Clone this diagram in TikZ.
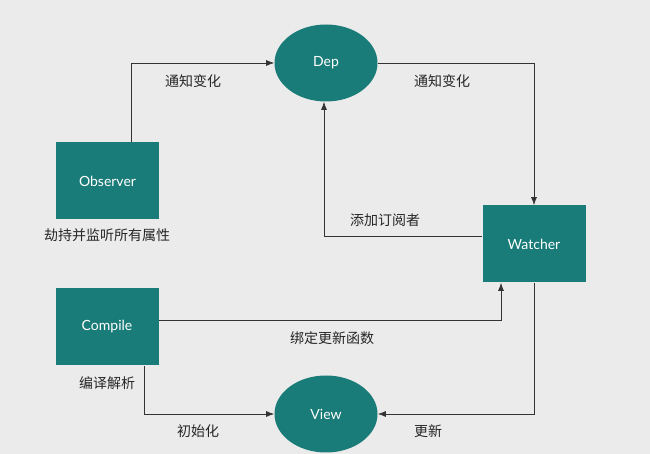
\documentclass[tikz,border=0pt]{standalone}
\usepackage{fontspec}
\setmainfont{Lato}
\newfontfamily\cjk{Noto Sans CJK SC}
\usetikzlibrary{shapes.geometric,arrows.meta}
\definecolor{tealbox}{RGB}{26,124,120}
\definecolor{bggray}{RGB}{235,235,235}
\begin{document}
\begin{tikzpicture}[x=1pt,y=1pt,line width=0.7pt,
  box/.style={fill=tealbox,text=white,minimum width=103pt,minimum height=77pt,inner sep=0pt,font=\fontsize{14}{16}\selectfont},
  oval/.style={box,ellipse},
  lbl/.style={font=\cjk\fontsize{14}{16}\selectfont,text=black!85},
  link/.style={draw=black!80,-{Latex[length=8pt,width=6pt]}}]
\fill[bggray](0,0)rectangle(650,454);
% nodes
\node[oval](dep)at(326,391){Dep};
\node[box](observer)at(107.5,273){Observer};
\node[box](watcher)at(534,210){Watcher};
\node[box](compile)at(107,127){Compile};
\node[oval](view)at(326,40){View};
% connectors
\draw[link]([xshift=23.5pt]observer.north)|-(dep.west);
\draw[link](dep.east)-|(watcher.north);
\draw[link]([yshift=8pt]watcher.west)-|([xshift=-2pt]dep.south);
\draw[link]([yshift=7pt]compile.east)-|([xshift=-33pt]watcher.south);
\draw[link]([xshift=37pt]compile.south)|-(view.west);
\draw[link](watcher.south)|-(view.east);
% labels
\node[lbl](l1)at(193,373){通知变化};
\node[lbl](l2)at(442,373){通知变化};
\node[lbl](l3)at(107,219){劫持并监听所有属性};
\node[lbl](l4)at(385,234){添加订阅者};
\node[lbl](l5)at(332,116){绑定更新函数};
\node[lbl](l6)at(107,71){编译解析};
\node[lbl](l7)at(198,23){初始化};
\node[lbl](l8)at(428,23){更新};
\end{tikzpicture}
\end{document}
